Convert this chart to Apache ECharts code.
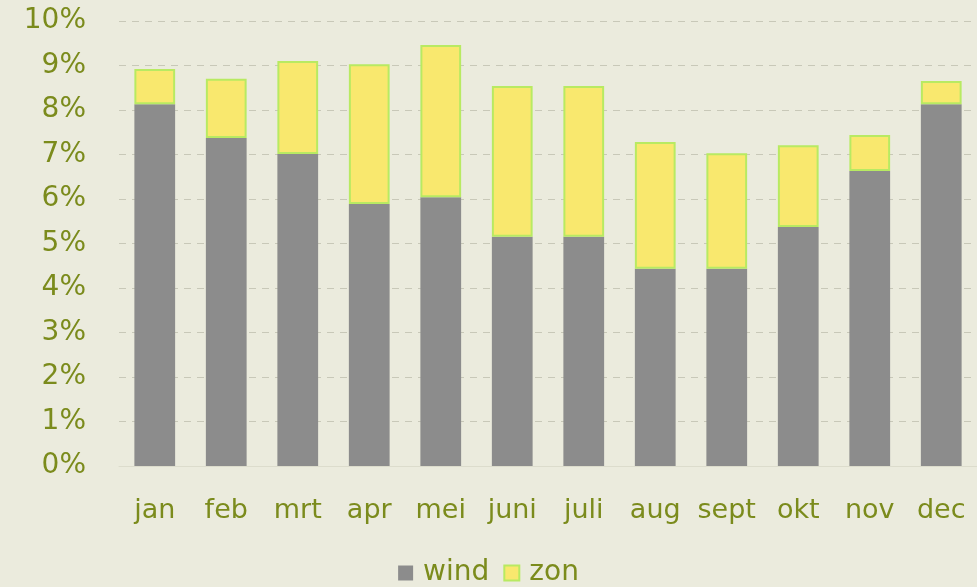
<!DOCTYPE html>
<html style="height: 100%">
   <head>
       <meta charset="utf-8">
   </head>
   <body style="height: 100%; margin: 0; background: #ebebdd">
       <div id="container" style="width: 977px; height: 587px"></div>
       <script type="text/javascript" src="https://cdn.jsdelivr.net/npm/echarts@6/dist/echarts.min.js"></script>
       <script type="text/javascript">
var months = ['jan', 'feb', 'mrt', 'apr', 'mei', 'juni', 'juli', 'aug', 'sept', 'okt', 'nov', 'dec'];
var wind = [8.13, 7.37, 7.01, 5.89, 6.04, 5.15, 5.15, 4.43, 4.43, 5.37, 6.63, 8.13];
var zon = [0.79, 1.33, 2.09, 3.14, 3.42, 3.39, 3.39, 2.85, 2.60, 1.84, 0.81, 0.52];

var dom = document.getElementById("container");
var myChart = echarts.init(dom);
var textColor = '#7b8b1c';
var option = {
    backgroundColor: '#ebebdd',
    textStyle: { fontFamily: 'DejaVu Sans' },
    grid: { left: 119, right: -2, top: 21, bottom: 121 },
    legend: {
        top: 554,
        left: 'center',
        icon: 'rect',
        itemWidth: 15,
        itemHeight: 15,
        itemGap: 14,
        textStyle: { color: textColor, fontSize: 28, fontFamily: 'DejaVu Sans', padding: [0, 0, 0, 5] },
        data: ['wind', 'zon']
    },
    xAxis: {
        type: 'category',
        data: months,
        axisLine: { show: true, lineStyle: { color: '#dcdccc' } },
        axisTick: { show: false },
        axisLabel: { color: textColor, fontSize: 27, margin: 31, interval: 0 }
    },
    yAxis: {
        type: 'value',
        min: 0,
        max: 10,
        interval: 1,
        axisLabel: { color: textColor, fontSize: 28, margin: 33, formatter: '{value}%' },
        splitLine: { lineStyle: { color: '#c8c8b8', type: [7, 6] } },
        axisLine: { show: false },
        axisTick: { show: false }
    },
    series: [{
        name: 'wind',
        type: 'bar',
        stack: 'a',
        data: wind,
        barWidth: '57%',
        itemStyle: { color: '#8c8c8c' }
    }, {
        name: 'zon',
        type: 'bar',
        stack: 'a',
        data: zon,
        itemStyle: { color: '#f9e86e', borderColor: '#b8ea62', borderWidth: 2 }
    }]
};
myChart.setOption(option);
       </script>
   </body>
</html>
